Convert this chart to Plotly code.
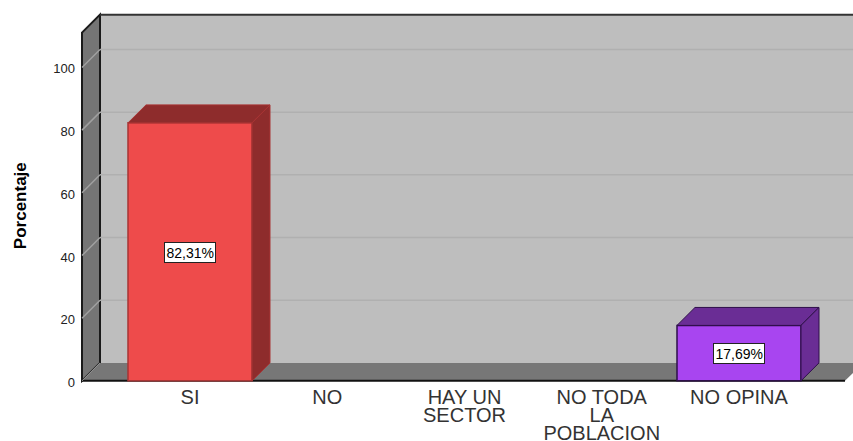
import plotly.graph_objects as go

categories = ["SI", "NO", "HAY UN<br>SECTOR", "NO TODA<br>LA<br>POBLACION", "NO OPINA"]
values = [82.31, 0, 0, 0, 17.69]
value_labels = ["82,31%", None, None, None, "17,69%"]
front_colors = ["#EE4B4B", "#888888", "#888888", "#888888", "#A845F0"]
side_colors = ["#8E2C2C", "#555555", "#555555", "#555555", "#6A2D95"]
edge_colors = ["#A83434", "#555555", "#555555", "#555555", "#2E0F4A"]
y_ticks = [0, 20, 40, 60, 80, 100]

W, H = 853, 441
PX_Y = 3.14
PX_X = 137.25
ML, MT, MB = 76, 10.5, 56.86
X0 = 190
DX = 18 / PX_X
DY = 18 / PX_Y
BAR = 124 / PX_X
x_rng = [(ML - X0) / PX_X, (W - X0) / PX_X]
y_rng = [-1, 118]
WALL_X = (82 - X0) / PX_X
END_X = (845 - X0) / PX_X
WALL_TOP = 111.1

def poly(pts):
    return "M " + " L ".join(f"{a},{b}" for a, b in pts) + " Z"

shapes = []
shapes.append(dict(type="path", layer="below", xref="x", yref="y", fillcolor="#BEBEBE", line=dict(width=0),
                   path=poly([(WALL_X + DX, DY), (x_rng[1] + 1, DY), (x_rng[1] + 1, WALL_TOP + DY), (WALL_X + DX, WALL_TOP + DY)])))
shapes.append(dict(type="path", layer="below", xref="x", yref="y", fillcolor="#757575", line=dict(color="#1A1A1A", width=2),
                   path=poly([(WALL_X, 0), (WALL_X + DX, DY), (WALL_X + DX, WALL_TOP + DY), (WALL_X, WALL_TOP)])))
shapes.append(dict(type="path", layer="below", xref="x", yref="y", fillcolor="#777777", line=dict(width=0),
                   path=poly([(WALL_X, 0), (END_X, 0), (END_X + DX, DY), (x_rng[1] + 1, DY), (WALL_X + DX, DY)])))
for t in y_ticks[1:]:
    shapes.append(dict(type="line", layer="below", xref="x", yref="y", line=dict(color="#B0B0B0", width=1.5),
                       x0=WALL_X + DX, x1=x_rng[1] + 1, y0=t + DY, y1=t + DY))
    shapes.append(dict(type="line", layer="below", xref="x", yref="y", line=dict(color="#A0A0A0", width=1.5),
                       x0=WALL_X, x1=WALL_X + DX, y0=t, y1=t + DY))
shapes.append(dict(type="line", layer="below", xref="x", yref="y", line=dict(color="#333333", width=2),
                   x0=WALL_X + DX, x1=x_rng[1] + 1, y0=WALL_TOP + DY, y1=WALL_TOP + DY))
shapes.append(dict(type="line", layer="below", xref="x", yref="y", line=dict(color="#111111", width=2),
                   x0=WALL_X, x1=END_X, y0=0, y1=0))
shapes.append(dict(type="line", layer="below", xref="x", yref="y", line=dict(color="#999999", width=1),
                   x0=WALL_X, x1=WALL_X + DX, y0=0, y1=DY))

fig = go.Figure()
positions = list(range(len(categories)))
for i, v in zip(positions, values):
    if v <= 0:
        continue
    x0, x1 = i - BAR / 2, i + BAR / 2
    top = [(x0, v), (x0 + DX, v + DY), (x1 + DX, v + DY), (x1, v), (x0, v)]
    side = [(x1, 0), (x1 + DX, DY), (x1 + DX, v + DY), (x1, v), (x1, 0)]
    for face in (top, side):
        fig.add_trace(go.Scatter(x=[p[0] for p in face], y=[p[1] for p in face], mode="lines", fill="toself",
                                 fillcolor=side_colors[i], line=dict(color=edge_colors[i], width=1),
                                 hoverinfo="skip", showlegend=False))
fig.add_trace(go.Bar(x=positions, y=values, width=BAR, showlegend=False, hoverinfo="skip",
                     marker=dict(color=front_colors,
                                 line=dict(color=edge_colors, width=[1.5 if v > 0 else 0 for v in values]))))

annotations = []
for i, v, lab in zip(positions, values, value_labels):
    if lab:
        annotations.append(dict(x=i, y=v / 2, xref="x", yref="y", text=lab, showarrow=False, yshift=-0.5,
                                bgcolor="white", bordercolor="#222222", borderwidth=1, borderpad=1.5,
                                font=dict(family="Liberation Sans", size=14, color="black")))
annotations.append(dict(x=0, y=1 - (206 - MT) / (H - MT - MB), xref="paper", yref="paper", xanchor="center", yanchor="middle",
                        text="<b>Porcentaje</b>", textangle=-90, showarrow=False, xshift=20 - ML,
                        font=dict(family="Liberation Sans", size=17, color="black")))

fig.update_layout(
    width=W, height=H, autosize=False,
    margin=dict(l=ML, r=0, t=MT, b=MB, pad=0, autoexpand=False),
    paper_bgcolor="white", plot_bgcolor="white",
    shapes=shapes, annotations=annotations, showlegend=False,
    xaxis=dict(range=x_rng, tickmode="array", tickvals=positions, ticktext=categories, showgrid=False, automargin=False,
               zeroline=False, showline=False, ticks="", tickangle=0,
               tickfont=dict(family="Liberation Sans", size=20, color="#333333")),
    yaxis=dict(range=y_rng, tickmode="array", tickvals=y_ticks, showgrid=False, zeroline=False, showline=False, automargin=False,
               ticks="", tickfont=dict(family="Liberation Sans", size=13, color="#222222")),
)

post = """
document.documentElement.style.margin='0';
document.body.style.margin='0';
document.body.style.overflow='hidden';
function nudge(t,dy){t.setAttribute('transform',(t.getAttribute('transform')||'')+' translate(0,'+dy+')');}
document.querySelectorAll('.xtick text').forEach(function(t){
  t.querySelectorAll('tspan.line').forEach(function(l,i){l.setAttribute('dy',(i*18)+'px');});
  nudge(t,-1);
});
document.querySelectorAll('.ytick text').forEach(function(t){nudge(t,1.5);});
"""
fig.write_html("out.html", post_script=post, config={"displayModeBar": False})
